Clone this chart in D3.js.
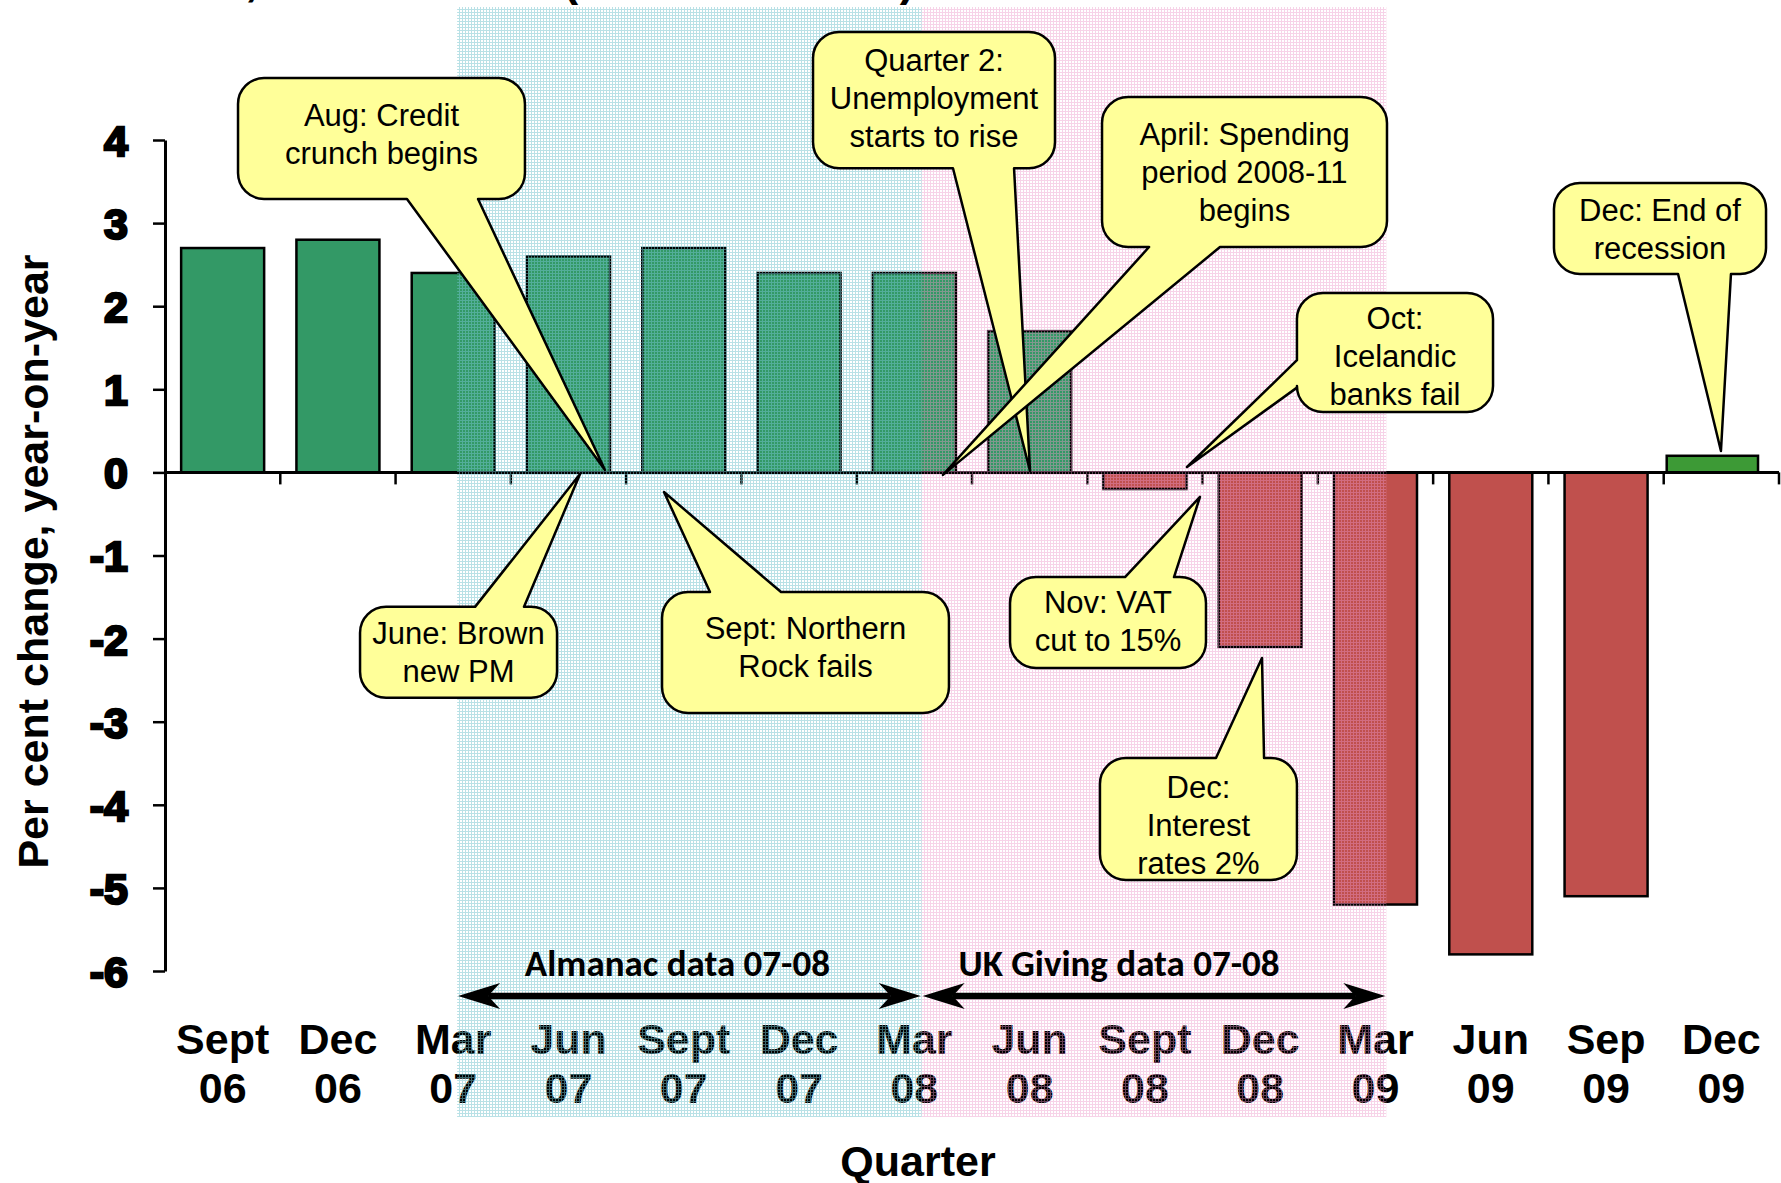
<!DOCTYPE html>
<html>
<head>
<meta charset="utf-8">
<title>UK GDP by quarter</title>
<script src="https://cdn.jsdelivr.net/npm/d3@7"></script>
<style>
  body { margin: 0; background: #fff; overflow: hidden; }
  text { font-family: "Liberation Sans", Arial, sans-serif; fill: #000; }
  .bold { font-weight: bold; }
  .bar { stroke: #000; stroke-width: 2.5px; }
  .axis-line { stroke: #000; stroke-width: 3px; fill: none; }
  .tick { stroke: #000; stroke-width: 2.5px; }
  .big { font-size: 43px; font-weight: bold; }
  .note { fill: #ffff99; stroke: #000; stroke-width: 2.5px; stroke-linejoin: round; }
  .note-text { font-size: 31px; }
  .span-label { font-family: Carlito, Lato, "Liberation Sans", sans-serif; font-weight: bold; font-size: 37px; }
</style>
</head>
<body>
<div id="chart"></div>
<script>
var width = 1781, height = 1183;

// data
var quarters = ["Sept 06", "Dec 06", "Mar 07", "Jun 07", "Sept 07", "Dec 07", "Mar 08",
                "Jun 08", "Sept 08", "Dec 08", "Mar 09", "Jun 09", "Sep 09", "Dec 09"];
var growth = [2.7, 2.8, 2.4, 2.6, 2.7, 2.4, 2.4, 1.7, -0.2, -2.1, -5.2, -5.8, -5.1, 0.2];
var phase = ["growth", "growth", "growth", "growth", "growth", "growth", "growth",
             "growth", "recession", "recession", "recession", "recession", "recession", "recovery"];
var yTicks = [4, 3, 2, 1, 0, -1, -2, -3, -4, -5, -6];
var spans = ["Almanac data 07-08", "UK Giving data 07-08"];
var notes = [
  ["Aug: Credit", "crunch begins"],
  ["June: Brown", "new PM"],
  ["Sept: Northern", "Rock fails"],
  ["Quarter 2:", "Unemployment", "starts to rise"],
  ["April: Spending", "period 2008-11", "begins"],
  ["Oct:", "Icelandic", "banks fail"],
  ["Nov: VAT", "cut to 15%"],
  ["Dec:", "Interest", "rates 2%"],
  ["Dec: End of", "recession"]
];

// layout: x in band units, y in percent units, textTop in px below the box top
var spanEdges = [2.54, 6.58, 10.62];
var spanLabelShift = [-12, -35];
var noteLayout = [
  {box: [0.635, 3.13, 4.745, 3.29],    side: "bottom", base: [2.104, 2.722], tip: [3.826, 0.03],   textTop: 37},
  {box: [1.696, 3.409, -1.618, -2.713], side: "top",   base: [2.696, 3.122], tip: [3.609, -0.02],  textTop: 26},
  {box: [4.322, 6.817, -1.44, -2.895],  side: "top",   base: [4.739, 5.357], tip: [4.339, -0.236], textTop: 36},
  {box: [5.635, 7.739, 5.30, 3.66],     side: "bottom", base: [6.852, 7.383], tip: [7.522, 0.017], textTop: 28},
  {box: [8.148, 10.626, 4.517, 2.712],  side: "bottom", base: [8.557, 9.174], tip: [6.765, -0.03], textTop: 37},
  {box: [9.843, 11.548, 2.16, 0.727],   side: "left",  base: [1.35, 1.02],   tip: [8.887, 0.065],  textTop: 25},
  {box: [7.348, 9.052, -1.26, -2.355],  side: "top",   base: [8.348, 8.774], tip: [9.0, -0.295],   textTop: 25},
  {box: [8.13, 9.843, -3.436, -4.904],  side: "top",   base: [9.139, 9.557], tip: [9.539, -2.233], textTop: 29},
  {box: [12.078, 13.922, 3.483, 2.388], side: "bottom", base: [13.157, 13.617], tip: [13.53, 0.258], textTop: 27}
];

var x = d3.scaleBand().domain(quarters).range([165, 1779]).paddingInner(0.28).paddingOuter(0.14);
var xu = d3.scaleLinear().domain([0, quarters.length]).range([165, 1779]);
// annotations were laid out on a slightly tighter grid
var xa = d3.scaleLinear().domain([0, quarters.length]).range([165, 1775]);
var y = d3.scaleLinear().domain([-6, 4]).range([971, 140]);
var colour = d3.scaleOrdinal().domain(["growth", "recession", "recovery"]).range(["#339966", "#c0504d", "#3d9a36"]);

// the last quarter sits as its own series, flush with the tick
function barX(i) {
  return phase[i] === "recovery" ? xu(i) + 3 : x(quarters[i]);
}
function barW(i) {
  return phase[i] === "recovery" ? x.bandwidth() * 1.1 : x.bandwidth();
}

var svg = d3.select("#chart").append("svg")
  .attr("width", width)
  .attr("height", height);

var defs = svg.append("defs");
function grid(id, line) {
  var p = defs.append("pattern").attr("id", id)
    .attr("patternUnits", "userSpaceOnUse").attr("width", 3).attr("height", 3);
  p.append("rect").attr("width", 3).attr("height", 1).attr("fill", line);
  p.append("rect").attr("y", 1).attr("width", 1).attr("height", 2).attr("fill", line);
}
grid("cyanGrid", "rgba(115,196,206,0.5)");
grid("pinkGrid", "rgba(235,150,200,0.42)");

// cut-off title at the top
svg.append("text").attr("class", "bold").attr("x", 258).attr("y", -5)
  .attr("text-anchor", "end").style("font-size", "48px").text("UK real GDP,");
svg.append("text").attr("class", "bold").attr("x", 563).attr("y", -5)
  .attr("textLength", 352).attr("lengthAdjust", "spacingAndGlyphs")
  .style("font-size", "48px").text("(ONS estimates)");

// bars
svg.append("g").selectAll("rect").data(growth).enter()
  .append("rect")
  .attr("class", "bar")
  .attr("x", function(d, i) { return barX(i); })
  .attr("width", function(d, i) { return barW(i); })
  .attr("y", function(d) { return y(Math.max(0, d)); })
  .attr("height", function(d) { return Math.abs(y(d) - y(0)); })
  .attr("fill", function(d, i) { return colour(phase[i]); });

// y axis
var yAxis = svg.append("g").attr("transform", "translate(165,0)")
  .call(d3.axisLeft(y).tickValues(yTicks).tickSize(12).tickSizeOuter(0).tickPadding(25).tickFormat(String));
yAxis.select(".domain").attr("class", "axis-line");
yAxis.selectAll(".tick line").attr("class", "tick");
yAxis.selectAll(".tick text").attr("class", "big").attr("dy", "0.36em");

// x axis at zero
svg.append("line").attr("class", "axis-line")
  .attr("x1", xu(0)).attr("x2", xu(quarters.length))
  .attr("y1", y(0)).attr("y2", y(0));
svg.append("g").selectAll("line").data(d3.range(1, quarters.length + 1)).enter()
  .append("line").attr("class", "tick")
  .attr("x1", function(k) { return xu(k); }).attr("x2", function(k) { return xu(k); })
  .attr("y1", y(0)).attr("y2", y(0) + 12);

var labels = svg.append("g").selectAll("text").data(quarters).enter()
  .append("text").attr("class", "big").attr("text-anchor", "middle")
  .attr("x", function(d) { return x(d) + x.bandwidth() / 2; })
  .attr("y", y(-6) + 83);
labels.append("tspan").text(function(d) { return d.split(" ")[0]; });
labels.append("tspan")
  .attr("x", function(d) { return x(d) + x.bandwidth() / 2; })
  .attr("dy", 49)
  .text(function(d) { return d.split(" ")[1]; });

// axis titles
svg.append("text").attr("class", "big").attr("text-anchor", "middle")
  .attr("transform", "translate(48," + ((y(4) + y(-6)) / 2 + 6) + ") rotate(-90)")
  .text("Per cent change, year-on-year");
svg.append("text").attr("class", "big").attr("text-anchor", "middle")
  .attr("x", 918).attr("y", 1176).text("Quarter");

// shaded data periods
svg.append("g").selectAll("rect").data(spans).enter()
  .append("rect")
  .attr("x", function(d, i) { return xa(spanEdges[i]); })
  .attr("width", function(d, i) { return xa(spanEdges[i + 1]) - xa(spanEdges[i]); })
  .attr("y", 7)
  .attr("height", 1110)
  .attr("fill", function(d, i) { return i === 0 ? "url(#cyanGrid)" : "url(#pinkGrid)"; });

// double headed arrows with labels
function arrowHead(px, py, dir) {
  return "M" + px + "," + py +
    "L" + (px + dir * 42) + "," + (py - 13) +
    "L" + (px + dir * 30) + "," + py +
    "L" + (px + dir * 42) + "," + (py + 13) + "Z";
}
var arrowY = y(-6) + 25;
spans.forEach(function(label, i) {
  var a = xa(spanEdges[i]) + 1, b = xa(spanEdges[i + 1]) - 1;
  svg.append("line").attr("x1", a + 30).attr("x2", b - 30)
    .attr("y1", arrowY).attr("y2", arrowY)
    .attr("stroke", "#000").attr("stroke-width", 6.5);
  svg.append("path").attr("d", arrowHead(a, arrowY, 1)).attr("fill", "#000");
  svg.append("path").attr("d", arrowHead(b, arrowY, -1)).attr("fill", "#000");
  svg.append("text").attr("class", "span-label").attr("text-anchor", "middle")
    .attr("x", (a + b) / 2 + spanLabelShift[i]).attr("y", y(-6) + 5)
    .text(label);
});

// callouts
function notePath(L) {
  var x0 = xa(L.box[0]), x1 = xa(L.box[1]), y0 = y(L.box[2]), y1 = y(L.box[3]), r = 26;
  var tx = xa(L.tip[0]), ty = y(L.tip[1]);
  var p = d3.path();
  p.moveTo(x0 + r, y0);
  if (L.side === "top") { p.lineTo(xa(L.base[0]), y0); p.lineTo(tx, ty); p.lineTo(xa(L.base[1]), y0); }
  p.lineTo(x1 - r, y0);
  p.arcTo(x1, y0, x1, y0 + r, r);
  p.lineTo(x1, y1 - r);
  p.arcTo(x1, y1, x1 - r, y1, r);
  if (L.side === "bottom") { p.lineTo(xa(L.base[1]), y1); p.lineTo(tx, ty); p.lineTo(xa(L.base[0]), y1); }
  p.lineTo(x0 + r, y1);
  p.arcTo(x0, y1, x0, y1 - r, r);
  if (L.side === "left") { p.lineTo(x0, y(L.base[1])); p.lineTo(tx, ty); p.lineTo(x0, y(L.base[0])); }
  p.lineTo(x0, y0 + r);
  p.arcTo(x0, y0, x0 + r, y0, r);
  p.closePath();
  return p.toString();
}

var note = svg.append("g").selectAll("g").data(notes).enter().append("g");
note.append("path").attr("class", "note")
  .attr("d", function(d, i) { return notePath(noteLayout[i]); });
note.each(function(lines, i) {
  var L = noteLayout[i];
  var cx = (xa(L.box[0]) + xa(L.box[1])) / 2;
  var top = y(L.box[2]) + L.textTop;
  d3.select(this).selectAll("text").data(lines).enter()
    .append("text").attr("class", "note-text").attr("text-anchor", "middle")
    .attr("x", cx)
    .attr("y", function(t, j) { return top + j * 38 + 11; })
    .text(function(t) { return t; });
});
</script>
</body>
</html>
